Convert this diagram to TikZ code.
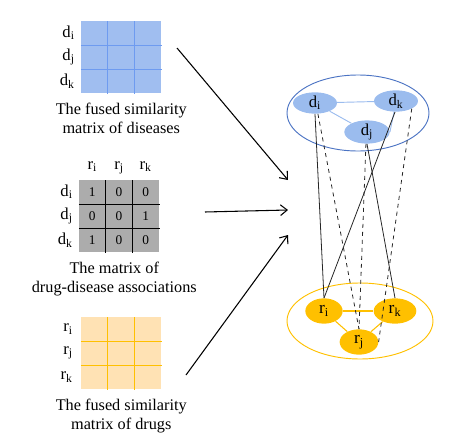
\documentclass[tikz,border=0pt]{standalone}
\usepackage{fontspec}
\setmainfont{Liberation Serif}
\usetikzlibrary{positioning, calc, arrows.meta, shapes.geometric}

\definecolor{gridblue}{RGB}{160,190,240}
\definecolor{lineblue}{RGB}{110,155,240}
\definecolor{nodeblue}{RGB}{155,188,238}
\definecolor{ringblue}{RGB}{75,115,195}
\definecolor{gridorange}{RGB}{255,226,180}
\definecolor{nodeorange}{RGB}{255,192,0}
\definecolor{gridgray}{RGB}{172,172,172}

\begin{document}
\begin{tikzpicture}[
    x=0.75pt, y=-0.75pt,
    gridbox/.style={
        minimum width=60pt,
        minimum height=54pt,
        inner sep=0pt,
        anchor=north west
    },
    rowlab/.style={
        font=\fontsize{12.5}{13}\selectfont,
        anchor=east,
        inner sep=0pt
    },
    caption/.style={
        font=\fontsize{12.2}{14.25}\selectfont,
        align=center,
        anchor=north,
        inner sep=0pt
    },
    disnode/.style={
        ellipse,
        fill=nodeblue,
        minimum width=33pt,
        minimum height=16pt,
        inner sep=0pt,
        font=\fontsize{12.5}{12.5}\selectfont
    },
    drgnode/.style={
        ellipse,
        fill=nodeorange,
        minimum width=29pt,
        minimum height=19pt,
        inner sep=0pt,
        font=\fontsize{13}{13}\selectfont
    },
    link/.style={black!85, line width=0.6pt},
    dlink/.style={link, dashed},
    flow/.style={
        -{Straight Barb[length=5pt, width=8pt]},
        line width=0.8pt
    }
]

\useasboundingbox (0,0) rectangle (455,443);

% Macro: 3x3 grid with name, corner, fill and line colour
\newcommand{\drawgrid}[5]{%
  \node[gridbox, fill=#4] (#1) at (#2,#3) {};
  \foreach \n in {1,2} {
    \draw[#5, line width=0.6pt]
      ($(#1.north west)!\n/3!(#1.north east)$) -- ($(#1.south west)!\n/3!(#1.south east)$);
    \draw[#5, line width=0.6pt]
      ($(#1.north west)!\n/3!(#1.south west)$) -- ($(#1.north east)!\n/3!(#1.south east)$);
  }
}

% Similarity matrix of diseases
\drawgrid{simD}{81}{21}{gridblue}{lineblue}
\foreach \s [count=\rr] in {i,j,k}
  \node[rowlab] (simD-\s) at ($(simD.north west)+(-6,24*\rr-12)$) {d\textsubscript{\s}};
\node[caption] (capD) at ($(simD.south)+(0,9)$)
    {The fused similarity\\matrix of diseases};

% Association matrix
\drawgrid{assoc}{79}{180}{gridgray}{black}
\foreach \s [count=\rr] in {i,j,k} {
  \node[rowlab] (assoc-d\s) at ($(assoc.north west)+(-6,24*\rr-12)$) {d\textsubscript{\s}};
  \node[rowlab, anchor=base] (assoc-r\s) at ($(assoc.north west)+(80/3*\rr-40/3,-11)$) {r\textsubscript{\s}};
}
\foreach \row [count=\rr] in {{1,0,0},{0,0,1},{1,0,0}}
  \foreach \v [count=\cc] in \row
    \node[font=\fontsize{10}{10}\selectfont, inner sep=0pt]
      at ($(assoc.north west)+(80/3*\cc-40/3,24*\rr-12)$) {\v};
\node[caption] (capA) at ($(assoc.south)+(-5,9)$)
    {The matrix of\\drug-disease associations};

% Similarity matrix of drugs
\drawgrid{simR}{81}{317}{gridorange}{nodeorange}
\foreach \s [count=\rr] in {i,j,k}
  \node[rowlab] (simR-\s) at ($(simR.north west)+(-8,24*\rr-12)$) {r\textsubscript{\s}};
\node[caption] (capR) at ($(simR.south)+(0,9)$)
    {The fused similarity\\matrix of drugs};

% Arrows into the network
\coordinate (in1) at (177,48);
\coordinate (out1) at (288,180);
\coordinate (in2) at (205,212);
\coordinate (out2) at (288,210);
\coordinate (in3) at (186,375);
\coordinate (out3) at (288,235);
\draw[flow] (in1) -- (out1);
\draw[flow] (in2) -- (out2);
\draw[flow] (in3) -- (out3);

% Disease layer
\node[ellipse, draw=ringblue, line width=0.7pt, minimum width=106.5pt, minimum height=57pt]
    (disgroup) at (358,113) {};
\node[disnode] (di) at (315,103) {d\textsubscript{i}};
\node[disnode] (dk) at (396,101) {d\textsubscript{k}};
\node[disnode, minimum width=34pt] (dj) at (367,132) {d\textsubscript{j}};
\draw[nodeblue, line width=0.7pt] (di) -- (dk);
\draw[nodeblue, line width=0.7pt] (di) -- (dj);
\draw[nodeblue, line width=0.7pt] (dj.east) -- (dk.-100);

% Drug layer
\node[ellipse, draw=nodeorange, line width=0.7pt, minimum width=109.5pt, minimum height=57pt]
    (drggroup) at (360,321) {};
\node[drgnode, minimum width=28pt] (ri) at (324,311) {r\textsubscript{i}};
\node[drgnode, minimum width=32pt] (rk) at (395,311) {r\textsubscript{k}};
\node[drgnode] (rj) at (359,342) {r\textsubscript{j}};
\draw[nodeorange, line width=0.8pt] (ri) -- (rk);
\draw[nodeorange, line width=0.8pt] (ri) -- (rj);
\draw[nodeorange, line width=0.8pt] (rj) -- (rk);

% Links between the layers
\draw[link] (di.south) -- (ri.north);
\draw[link] (dk.-95) -- (ri.north);
\draw[link] (dj.south) -- (rk.north);
\draw[dlink] (di.-75) -- (rj.north);
\draw[dlink] (dj.-95) -- (rj.north);
\draw[dlink] (dk.south east) -- (rj.east);

\end{tikzpicture}
\end{document}
